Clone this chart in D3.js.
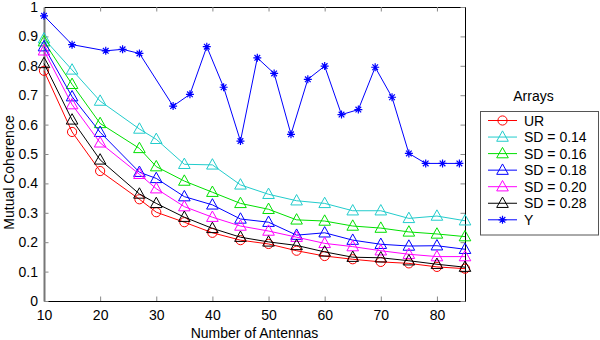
<!DOCTYPE html>
<html>
<head>
<meta charset="utf-8">
<script src="https://cdn.jsdelivr.net/npm/d3@7"></script>
<style>
  body { margin: 0; background: #fff; }
  text { font-family: "Liberation Sans", Arial, sans-serif; font-size: 14px; fill: #000; }
</style>
</head>
<body>
<div id="chart"></div>
<script>
// antenna counts for the SD / UR arrays
const antennas = [10, 15, 20, 27, 30, 35, 40, 45, 50, 55, 60, 65, 70, 75, 80, 85]
// antenna counts for the Y array
const antennasY = [10, 15, 21, 24, 27, 33, 36, 39, 42, 45, 48, 51, 54, 57, 60, 63, 66, 69, 72, 75, 78, 81, 84]

const valsUR   = [0.783, 0.575, 0.442, 0.346, 0.302, 0.268, 0.232, 0.207, 0.194, 0.171, 0.153, 0.142, 0.133, 0.128, 0.116, 0.110]
const valsSD14 = [0.892, 0.786, 0.680, 0.585, 0.550, 0.465, 0.463, 0.395, 0.363, 0.341, 0.332, 0.307, 0.307, 0.281, 0.289, 0.273]
const valsSD16 = [0.882, 0.737, 0.604, 0.519, 0.457, 0.408, 0.370, 0.332, 0.312, 0.276, 0.272, 0.255, 0.248, 0.235, 0.228, 0.219]
const valsSD18 = [0.865, 0.695, 0.574, 0.438, 0.417, 0.355, 0.327, 0.279, 0.268, 0.224, 0.232, 0.207, 0.193, 0.187, 0.188, 0.176]
const valsSD20 = [0.851, 0.668, 0.538, 0.431, 0.382, 0.321, 0.285, 0.255, 0.238, 0.217, 0.196, 0.185, 0.171, 0.159, 0.151, 0.151]
const valsSD28 = [0.808, 0.616, 0.480, 0.364, 0.332, 0.285, 0.247, 0.217, 0.201, 0.189, 0.167, 0.149, 0.147, 0.137, 0.125, 0.115]
const valsY    = [0.970, 0.872, 0.851, 0.856, 0.842, 0.663, 0.703, 0.865, 0.727, 0.544, 0.827, 0.774, 0.567, 0.754, 0.799, 0.634, 0.651, 0.795, 0.693, 0.502, 0.468, 0.468, 0.468]

const xTicks = [10, 20, 30, 40, 50, 60, 70, 80]
const yTicks = [0, 0.1, 0.2, 0.3, 0.4, 0.5, 0.6, 0.7, 0.8, 0.9, 1]
const seriesNames = ['UR', 'SD = 0.14', 'SD = 0.16', 'SD = 0.18', 'SD = 0.20', 'SD = 0.28', 'Y']

const series = [
  { name: seriesNames[0], x: antennas, y: valsUR, color: '#ff0000', marker: 'circle' },
  { name: seriesNames[1], x: antennas, y: valsSD14, color: '#22cccc', marker: 'triangle' },
  { name: seriesNames[2], x: antennas, y: valsSD16, color: '#00e000', marker: 'triangle' },
  { name: seriesNames[3], x: antennas, y: valsSD18, color: '#0000ff', marker: 'triangle' },
  { name: seriesNames[4], x: antennas, y: valsSD20, color: '#ff00ff', marker: 'triangle' },
  { name: seriesNames[5], x: antennas, y: valsSD28, color: '#000000', marker: 'triangle' },
  { name: seriesNames[6], x: antennasY, y: valsY, color: '#0000ff', marker: 'star' },
]

const width = 600, height = 340
const margins = { t: 7, l: 44, r: 135, b: 39 }
const chartdims = { width: width - margins.l - margins.r, height: height - margins.t - margins.b }

const svg = d3.select('#chart').append('svg').attr('width', width).attr('height', height)
const plotg = svg.append('g').attr('transform', `translate(${margins.l},${margins.t})`)

const xScale = d3.scaleLinear().domain([10, 85]).range([0, chartdims.width])
const yScale = d3.scaleLinear().domain([0, 1]).range([chartdims.height, 0])

// inward ticks, matlab style
const tickLen = 4.5
const xAxis = d3.axisBottom(xScale).tickValues(xTicks).tickFormat(d3.format('d')).tickSizeInner(-tickLen).tickSizeOuter(0).tickPadding(9)
const yAxis = d3.axisLeft(yScale).tickValues(yTicks).tickFormat(d => d === 0 || d === 1 ? String(d) : d3.format('.1f')(d)).tickSizeInner(-tickLen).tickSizeOuter(0).tickPadding(6)

const xaxisg = plotg.append('g').attr('transform', `translate(0,${chartdims.height})`).call(xAxis)
const yaxisg = plotg.append('g').call(yAxis)
const topg = plotg.append('g').call(d3.axisTop(xScale).tickValues(xTicks).tickFormat('').tickSizeInner(-tickLen).tickSizeOuter(0))
const rightg = plotg.append('g').attr('transform', `translate(${chartdims.width},0)`)
  .call(d3.axisRight(yScale).tickValues(yTicks).tickFormat('').tickSizeInner(-tickLen).tickSizeOuter(0))

;[xaxisg, yaxisg, topg, rightg].forEach(g => {
  g.selectAll('.domain').attr('stroke', '#000')
  g.selectAll('.tick line').attr('stroke', '#888')
  g.selectAll('text').attr('font-family', null).attr('font-size', null).attr('fill', '#000')
})
yaxisg.select('.domain').attr('stroke', '#777').attr('stroke-width', 2)

// axis titles
svg.append('text').attr('x', margins.l + chartdims.width / 2).attr('y', 337.5)
  .attr('text-anchor', 'middle').text('Number of Antennas')
svg.append('text').attr('transform', `translate(13.5,172.5) rotate(-90)`)
  .attr('text-anchor', 'middle').text('Mutual Coherence')

const trianglePath = (s) => `M0,${-s * 0.62}L${s * 0.58},${s * 0.42}L${-s * 0.58},${s * 0.42}Z`
const starPath = (s) => {
  let p = ''
  for (let a = 0; a < 4; a++) {
    let ang = a * Math.PI / 4
    let dx = Math.cos(ang) * s / 2, dy = Math.sin(ang) * s / 2
    p += `M${-dx},${-dy}L${dx},${dy}`
  }
  return p
}

const drawMarker = (g, marker, color) => {
  if (marker === 'circle') {
    g.append('circle').attr('r', 4.6).attr('fill', 'none').attr('stroke', color).attr('stroke-width', 1)
  } else if (marker === 'triangle') {
    g.append('path').attr('d', trianglePath(10)).attr('fill', 'none').attr('stroke', color).attr('stroke-width', 1)
  } else {
    g.append('path').attr('d', starPath(8)).attr('fill', 'none').attr('stroke', color).attr('stroke-width', 1.2)
  }
}

const lineGen = (s) => d3.line().x((d, i) => xScale(s.x[i])).y(d => yScale(d))

series.forEach(s => {
  plotg.append('path').datum(s.y).attr('d', lineGen(s)).attr('fill', 'none')
    .attr('stroke', s.color).attr('stroke-width', 1)
  s.y.forEach((v, i) => {
    let mg = plotg.append('g').attr('transform', `translate(${xScale(s.x[i])},${yScale(v)})`)
    drawMarker(mg, s.marker, s.color)
  })
})

// legend
const legendg = svg.append('g')
svg.append('text').attr('x', 533.5).attr('y', 101).attr('text-anchor', 'middle').text('Arrays')
legendg.append('rect').attr('x', 480.5).attr('y', 111.5).attr('width', 118).attr('height', 123.5)
  .attr('fill', '#fff').attr('stroke', '#555').attr('stroke-width', 1)
series.forEach((s, i) => {
  let cy = 120.5 + i * 16.55
  legendg.append('line').attr('x1', 488).attr('x2', 517).attr('y1', cy).attr('y2', cy)
    .attr('stroke', s.color).attr('stroke-width', 1)
  let mg = legendg.append('g').attr('transform', `translate(502.5,${cy})`)
  drawMarker(mg, s.marker, s.color)
  legendg.append('text').attr('x', 524).attr('y', cy).attr('dy', '0.36em').text(s.name)
})
</script>
</body>
</html>
